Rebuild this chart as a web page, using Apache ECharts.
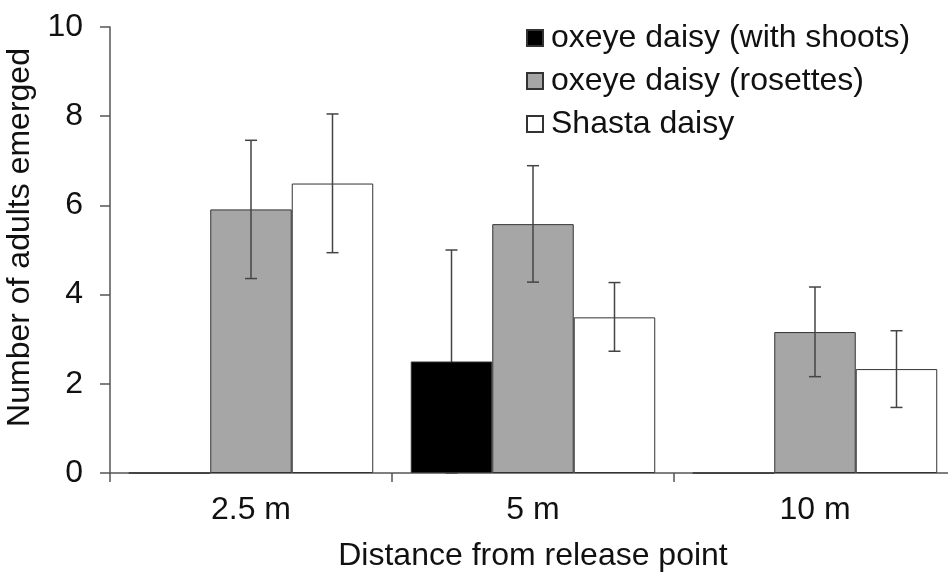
<!DOCTYPE html>
<html>
<head>
<meta charset="utf-8">
<script src="https://cdn.jsdelivr.net/npm/echarts@6/dist/echarts.min.js"></script>
<style>
  html, body { margin: 0; padding: 0; background: #fff; }
  #chart { width: 948px; height: 573px; }
</style>
</head>
<body>
<div id="chart"></div>
<script>
var categories = ['2.5 m', '5 m', '10 m'];
var seriesNames = ['oxeye daisy (with shoots)', 'oxeye daisy (rosettes)', 'Shasta daisy'];
// means
var shootsMean = [0, 2.5, 0];
var rosettesMean = [5.91, 5.58, 3.16];
var shastaMean = [6.49, 3.49, 2.33];
// error bar ends [low, high]
var shootsErr = [null, [0, 5.0], null];
var rosettesErr = [[4.36, 7.46], [4.28, 6.89], [2.16, 4.17]];
var shastaErr = [[4.94, 8.05], [2.73, 4.27], [1.47, 3.19]];
var yTicks = [0, 2, 4, 6, 8, 10];

var barFrac = 0.289;
var fills = ['#000000', '#a6a6a6', '#ffffff'];
var means = [shootsMean, rosettesMean, shastaMean];
var errs = [shootsErr, rosettesErr, shastaErr];
var font = 'Liberation Sans, Arial, sans-serif';
var fs = 32;

var chart = echarts.init(document.getElementById('chart'));

var series = [];
means.forEach(function (m, i) {
  series.push({
    name: seriesNames[i],
    type: 'bar',
    data: m,
    barWidth: (barFrac * 100) + '%',
    barGap: '0%',
    itemStyle: { color: fills[i], borderColor: '#333', borderWidth: 1 },
    emphasis: { disabled: true },
    z: 2
  });
});

errs.forEach(function (e, i) {
  var data = [];
  e.forEach(function (v, k) { if (v) data.push([k, v[0], v[1]]); });
  series.push({
    type: 'custom',
    data: data,
    // black bar hides the lower half of its error bar
    z: i === 0 ? 1 : 5,
    silent: true,
    renderItem: function (params, api) {
      var band = api.size([1, 0])[0];
      var cx = api.coord([api.value(0), 0])[0] + (i - 1) * band * barFrac;
      var lo = api.coord([api.value(0), api.value(1)])[1];
      var hi = api.coord([api.value(0), api.value(2)])[1];
      var cap = 6;
      var st = { stroke: '#444', lineWidth: 1.5 };
      return {
        type: 'group',
        children: [
          { type: 'line', shape: { x1: cx, y1: lo, x2: cx, y2: hi }, style: st },
          { type: 'line', shape: { x1: cx - cap, y1: hi, x2: cx + cap, y2: hi }, style: st },
          { type: 'line', shape: { x1: cx - cap, y1: lo, x2: cx + cap, y2: lo }, style: st }
        ]
      };
    }
  });
});

chart.setOption({
  animation: false,
  textStyle: { fontFamily: font },
  grid: { left: 110, top: 27, right: -8, bottom: 100, containLabel: false, outerBoundsMode: 'none' },
  legend: {
    data: seriesNames,
    orient: 'vertical',
    left: 521,
    top: 17,
    icon: 'rect',
    itemWidth: 16,
    itemHeight: 16,
    itemGap: 11,
    textStyle: { fontSize: fs, color: '#111', fontFamily: font, padding: [0, 0, 0, 3] },
    selectedMode: false
  },
  xAxis: {
    type: 'category',
    data: categories,
    name: 'Distance from release point',
    nameLocation: 'middle',
    nameGap: 67,
    nameTextStyle: { fontSize: fs, color: '#111' },
    axisLine: { lineStyle: { color: '#555', width: 1.5 } },
    axisTick: { show: true, length: 9, lineStyle: { color: '#555', width: 1.5 } },
    axisLabel: { fontSize: fs, color: '#111', margin: 21 }
  },
  yAxis: {
    type: 'value',
    min: 0,
    max: 10,
    interval: 2,
    name: 'Number of adults emerged',
    nameLocation: 'middle',
    nameGap: 69,
    nameTextStyle: { fontSize: fs, color: '#111', padding: [0, 0, 0, 25] },
    axisLine: { show: true, lineStyle: { color: '#555', width: 1.5 } },
    axisTick: { show: true, length: 10, lineStyle: { color: '#555', width: 1.5 } },
    splitLine: { show: false },
    axisLabel: {
      fontSize: fs, color: '#111', margin: 27,
      formatter: function (v) { return yTicks.indexOf(v) >= 0 ? String(v) : ''; }
    }
  },
  series: series
});
</script>
</body>
</html>
